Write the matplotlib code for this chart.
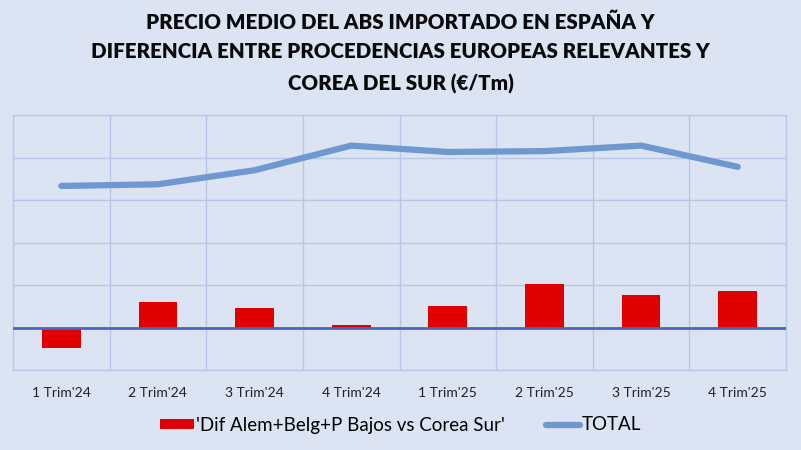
import matplotlib
matplotlib.use('Agg')
import matplotlib.pyplot as plt
import numpy as np

plt.rcParams['font.family'] = ['Lato', 'DejaVu Sans']

# data (€/Tm)
trimestres = ["1 Trim'24", "2 Trim'24", "3 Trim'24", "4 Trim'24",
              "1 Trim'25", "2 Trim'25", "3 Trim'25", "4 Trim'25"]
dif_europa_corea = [-245, 300, 235, 25, 250, 510, 380, 425]
total = [1665, 1685, 1850, 2140, 2065, 2075, 2140, 1890]

BG = '#DCE3F3'
C_BAR = '#E00000'
C_LINE = '#6F97D0'
C_ZERO = '#4A66C0'
C_GRID = '#B9C7E6'

fig = plt.figure(figsize=(8.01, 4.5), dpi=100)
fig.patch.set_facecolor(BG)
ax = fig.add_axes([13/801, 1 - 370/450, (786 - 13)/801, (370 - 115)/450])
ax.set_facecolor(BG)

x = np.arange(len(trimestres))
bars = ax.bar(x, dif_europa_corea, width=0.4, color=C_BAR, zorder=3,
              label="'Dif Alem+Belg+P Bajos vs Corea Sur'")
line, = ax.plot(x, total, color=C_LINE, lw=4.5, solid_capstyle='round',
                zorder=4, label='TOTAL')
ax.axhline(0, color=C_ZERO, lw=2, zorder=5)

ax.set_xlim(-0.5, len(trimestres) - 0.5)
ax.set_ylim(-500, 2500)
ax.set_yticks(np.arange(-500, 2501, 500))
ax.set_xticks(np.arange(-0.5, len(trimestres), 1), minor=False)
ax.set_xticklabels([])
ax.set_xticks(x, minor=True)
ax.set_xticklabels(trimestres, minor=True, fontsize=10, color='#222222')
ax.tick_params(which='both', length=0, labelleft=False)
ax.tick_params(axis='x', which='minor', pad=12)
ax.grid(True, which='major', color=C_GRID, lw=1, zorder=0)
for s in ax.spines.values():
    s.set_color(C_GRID)
    s.set_linewidth(1)

titulo = ['PRECIO MEDIO DEL ABS IMPORTADO EN ESPAÑA Y',
          'DIFERENCIA ENTRE PROCEDENCIAS EUROPEAS RELEVANTES Y',
          'COREA DEL SUR (€/Tm)']
for t, yy in zip(titulo, [22, 52, 84]):
    fig.text(0.5, 1 - yy/450, t, ha='center', va='center', fontsize=14.8,
             fontweight='heavy', color='#0A0A0A')

fig.legend([bars, line], [bars.get_label(), line.get_label()],
           loc='center', bbox_to_anchor=(0.5, 1 - 425/450), ncol=2,
           frameon=False, fontsize=13.5, handlelength=1.8, handleheight=0.5,
           handletextpad=0.1, columnspacing=2.2)

fig.savefig('out.png', dpi=100, facecolor=BG)
